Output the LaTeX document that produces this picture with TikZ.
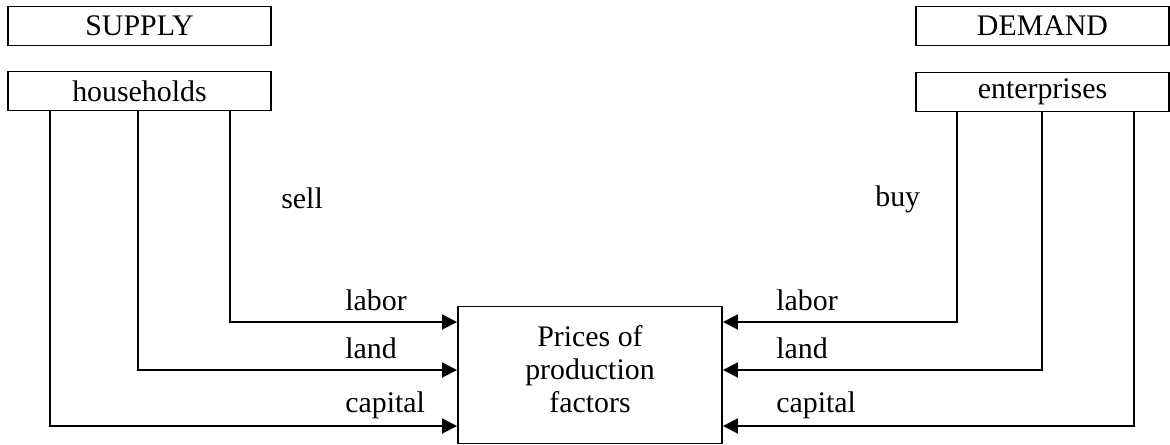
\documentclass[tikz,border=0pt]{standalone}
\usepackage{fontspec}
\setmainfont{Liberation Serif}
\usepackage{tikz}
\usetikzlibrary{arrows.meta, positioning}

\tikzset{
  every node/.style={font=\fontsize{17}{18.7}\selectfont},
  sidebox/.style={draw, line width=1.1pt, minimum height=0.78cm, inner sep=0pt},
  flow/.style={line width=1.1pt, -{Triangle[length=0.3cm, width=0.3cm]}},
  factor/.style={anchor=base west, inner sep=0pt}
}

\begin{document}
\begin{tikzpicture}
  \useasboundingbox (0,0) rectangle (23.4,-8.9);

  % supply side
  \node[sidebox, minimum width=5.26cm] (supply) at (2.79, -0.52) {SUPPLY};
  \node[sidebox, minimum width=5.26cm] (households) at (2.79, -1.82) {households};

  % demand side
  \node[sidebox, minimum width=5.06cm] (demand) at (20.85, -0.52) {DEMAND};
  \node[sidebox, minimum width=5.06cm] (enterprises) at (20.85, -1.84) {enterprises};

  % market in the middle
  \node[draw, line width=1.1pt, minimum width=5.28cm, minimum height=2.74cm, inner sep=0pt] (prices) at (11.8, -7.5) {};
  \node[align=center, inner sep=0pt] (pricestext) at ([yshift=0.12cm]prices.center) {Prices of\\production\\factors};

  % households sell
  \draw[flow] ([xshift=4.46cm]households.south west) |- (prices.west |- 0,-6.44);
  \draw[flow] ([xshift=2.62cm]households.south west) |- (prices.west |- 0,-7.40);
  \draw[flow] ([xshift=0.86cm]households.south west) |- (prices.west |- 0,-8.52);

  % enterprises buy
  \draw[flow] ([xshift=0.84cm]enterprises.south west) |- (prices.east |- 0,-6.44);
  \draw[flow] ([xshift=2.54cm]enterprises.south west) |- (prices.east |- 0,-7.40);
  \draw[flow] ([xshift=4.38cm]enterprises.south west) |- (prices.east |- 0,-8.52);

  \node[factor] (sell) at (5.62, -4.18) {sell};
  \node[factor] (buy) at (17.5, -4.14) {buy};

  \node[factor] (labS) at (6.9, -6.22) {labor};
  \node[factor] (landS) at (6.9, -7.18) {land};
  \node[factor] (capS) at (6.9, -8.26) {capital};

  \node[factor] (labD) at (15.52, -6.22) {labor};
  \node[factor] (landD) at (15.52, -7.18) {land};
  \node[factor] (capD) at (15.52, -8.26) {capital};
\end{tikzpicture}
\end{document}
